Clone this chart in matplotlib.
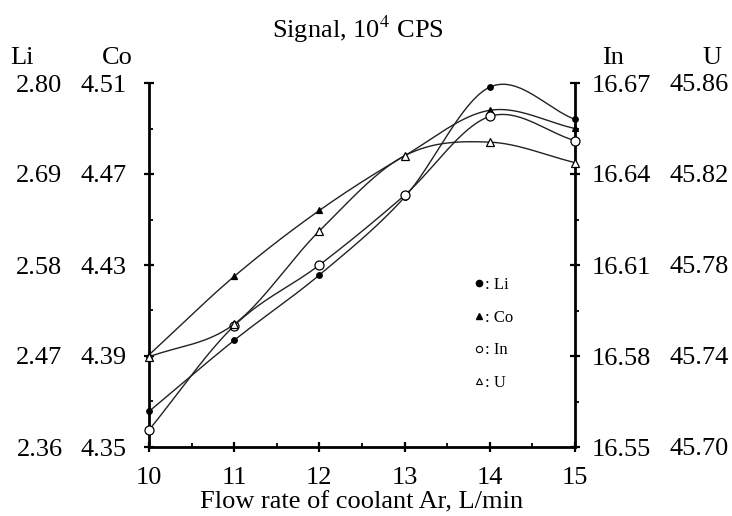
import numpy as np
import matplotlib
matplotlib.use("Agg")
import matplotlib.pyplot as plt
from matplotlib.lines import Line2D
from matplotlib.ticker import FixedLocator, MultipleLocator

plt.rcParams['font.family'] = ['Liberation Serif', 'DejaVu Serif']
plt.rcParams['mathtext.fontset'] = 'stix'

flow = [10, 11, 12, 13, 14, 15]
li = [2.403, 2.489, 2.568, 2.662, 2.795, 2.756]
co = [4.3905, 4.425, 4.454, 4.478, 4.498, 4.490]
in_ = [16.5556, 16.590, 16.610, 16.633, 16.659, 16.651]
u = [45.7396, 45.754, 45.795, 45.828, 45.834, 45.825]

li_ticks = [2.36, 2.47, 2.58, 2.69, 2.80]
co_ticks = [4.35, 4.39, 4.43, 4.47, 4.51]
in_ticks = [16.55, 16.58, 16.61, 16.64, 16.67]
u_ticks = [45.70, 45.74, 45.78, 45.82, 45.86]


def smooth(x, y, n=40):
    # Catmull-Rom spline through the data points (for drawing the curve)
    x = np.asarray(x, float); y = np.asarray(y, float)
    px = np.concatenate([[2*x[0]-x[1]], x, [2*x[-1]-x[-2]]])
    py = np.concatenate([[2*y[0]-y[1]], y, [2*y[-1]-y[-2]]])
    xs, ys = [], []
    t = np.linspace(0, 1, n)
    for i in range(1, len(px)-2):
        for P, out in ((px, xs), (py, ys)):
            p0, p1, p2, p3 = P[i-1], P[i], P[i+1], P[i+2]
            seg = 0.5*((2*p1) + (-p0+p2)*t + (2*p0-5*p1+4*p2-p3)*t**2 + (-p0+3*p1-3*p2+p3)*t**3)
            out.extend(seg)
    return np.array(xs), np.array(ys)


fig = plt.figure(figsize=(7.32, 5.16), dpi=100)
ax = fig.add_axes([149/732, 1-447/516, 426/732, 364/516])
ax_co = ax.twinx()
ax_in = ax.twinx()
ax_u = ax.twinx()

lc = '#222222'
fs = 19

def draw(a, y, lo, hi, marker, mfc, ms):
    sx, sy = smooth(flow, y)
    a.plot(sx, sy, color=lc, lw=1.0, zorder=3, clip_on=False)
    a.plot(flow, y, linestyle='none', marker=marker, mfc=mfc, mec='black', ms=ms, mew=0.9,
           zorder=4, clip_on=False)
    a.set_ylim(lo, hi)

draw(ax, li, 2.36, 2.80, 'o', 'black', 4)
draw(ax_co, co, 4.35, 4.51, '^', 'black', 5)
draw(ax_in, in_, 16.55, 16.67, 'o', 'white', 6.5)
draw(ax_u, u, 45.70, 45.86, '^', 'white', 6)

ax.set_xlim(10, 15)
ax.set_xticks(flow)
ax.xaxis.set_minor_locator(MultipleLocator(0.5))

for a in (ax, ax_co, ax_in, ax_u):
    for s in ('top', 'left', 'right', 'bottom'):
        a.spines[s].set_visible(False)

ax.spines['left'].set_visible(True)
ax.spines['bottom'].set_visible(True)
ax_in.spines['right'].set_visible(True)
for s in (ax.spines['left'], ax.spines['bottom'], ax_in.spines['right']):
    s.set_linewidth(2.0)

# Li axis (left, outer column)
ax.yaxis.set_major_locator(FixedLocator(li_ticks))
ax.set_yticklabels([f'{v:.2f}' for v in li_ticks])
ax.yaxis.set_minor_locator(FixedLocator([(li_ticks[i]+li_ticks[i+1])/2 for i in range(4)]))
ax.tick_params(axis='y', which='major', direction='inout', length=6.5, width=1.6, pad=59, labelsize=fs)
ax.tick_params(axis='y', which='minor', direction='in', length=3, width=1.3)
ax.tick_params(axis='x', which='major', direction='inout', length=6.5, width=1.6, pad=11, labelsize=fs)
ax.tick_params(axis='x', which='minor', direction='in', length=3, width=1.3)

# Co axis (left, inner column)
ax_co.yaxis.tick_left()
ax_co.yaxis.set_major_locator(FixedLocator(co_ticks))
ax_co.set_yticklabels([f'{v:.2f}' for v in co_ticks])
ax_co.tick_params(axis='y', length=0, pad=16, labelsize=fs)

# In axis (right, inner column)
ax_in.yaxis.set_major_locator(FixedLocator(in_ticks))
ax_in.set_yticklabels([f'{v:.2f}' for v in in_ticks])
ax_in.yaxis.set_minor_locator(FixedLocator([(in_ticks[i]+in_ticks[i+1])/2 for i in range(4)]))
ax_in.tick_params(axis='y', which='major', direction='inout', length=6.5, width=1.6, pad=9, labelsize=fs)
ax_in.tick_params(axis='y', which='minor', direction='out', length=3, width=1.3)

# U axis (right, outer column)
ax_u.yaxis.set_major_locator(FixedLocator(u_ticks))
ax_u.set_yticklabels([f'{v:.2f}' for v in u_ticks])
ax_u.tick_params(axis='y', length=0, pad=68, labelsize=fs)

ax.set_xlabel('Flow rate of coolant Ar, L/min', fontsize=fs, labelpad=2)

fig.text(358/732, 1-29/516, 'Signal, 10$^4$ CPS', ha='center', va='center', fontsize=fs)
fig.text(22/732, 1-58/516, 'Li', ha='center', va='center', fontsize=fs)
fig.text(117/732, 1-58/516, 'Co', ha='center', va='center', fontsize=fs)
fig.text(613/732, 1-58/516, 'In', ha='center', va='center', fontsize=fs)
fig.text(712/732, 1-58/516, 'U', ha='center', va='center', fontsize=fs)

handles = [
    Line2D([], [], ls='none', marker='o', mfc='black', mec='black', ms=4.5),
    Line2D([], [], ls='none', marker='^', mfc='black', mec='black', ms=4.5),
    Line2D([], [], ls='none', marker='o', mfc='white', mec='black', ms=4.5, mew=0.8),
    Line2D([], [], ls='none', marker='^', mfc='white', mec='black', ms=4.5, mew=0.8),
]
labels = [': Li', ': Co', ': In', ': U']
ax_u.legend(handles, labels, loc='center left', bbox_to_anchor=(0.727, 0.31),
            frameon=False, fontsize=12, handlelength=0.6, handletextpad=0.1,
            labelspacing=1.0)

fig.savefig('out.png', dpi=100)
